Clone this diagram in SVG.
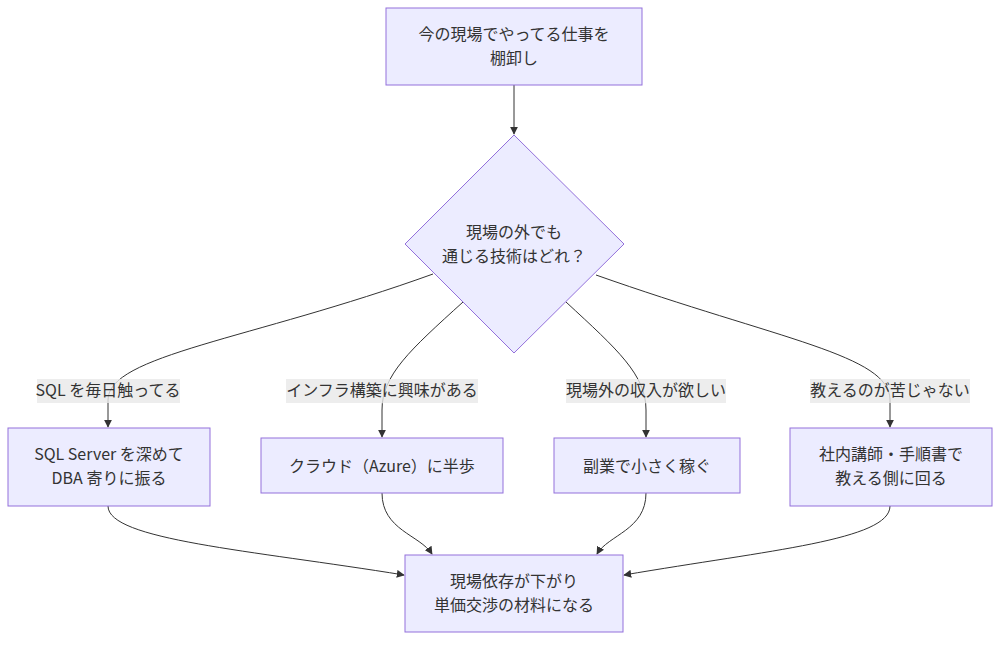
<svg xmlns="http://www.w3.org/2000/svg" width="1008" height="646" viewBox="0 0 1008 646">
<style>
.n{fill:#ECECFF;stroke:#9370DB;stroke-width:1}
.e{fill:none;stroke:#333;stroke-width:1}
text{font-family:"Noto Sans CJK JP","Liberation Sans",sans-serif;font-size:16px;fill:#333;text-anchor:middle}
.lb{fill:#E8E8E8;opacity:0.8}
</style>
<defs><marker id="a" viewBox="0 0 10 10" refX="9" refY="5" markerWidth="8" markerHeight="8" orient="auto"><path d="M0,0L10,5L0,10z" fill="#333"/></marker></defs>
<rect width="1008" height="646" fill="#fff"/>
<g id="edges">
<path class="e" marker-end="url(#a)" d="M514,85L514,134"/>
<path class="e" marker-end="url(#a)" d="M433,274C250,340 108,355 108,400L108,427"/>
<path class="e" marker-end="url(#a)" d="M463,302C410,350 382,375 382,410L382,437"/>
<path class="e" marker-end="url(#a)" d="M566,302C618,350 646,375 646,410L646,437"/>
<path class="e" marker-end="url(#a)" d="M596,275C780,340 890,355 890,400L890,427"/>
<path class="e" marker-end="url(#a)" d="M108,506C108,540 250,550 404,575"/>
<path class="e" marker-end="url(#a)" d="M382,493C382,530 420,535 432,554"/>
<path class="e" marker-end="url(#a)" d="M646,493C646,530 608,535 597,554"/>
<path class="e" marker-end="url(#a)" d="M890,506C890,540 770,550 624,575"/>
</g>
<g id="labels">
<rect class="lb" x="37" y="379" width="143" height="24"/><text x="108" y="396">SQL を毎日触ってる</text>
<rect class="lb" x="286" y="379" width="192" height="24"/><text x="382" y="396">インフラ構築に興味がある</text>
<rect class="lb" x="566" y="379" width="160" height="24"/><text x="646" y="396">現場外の収入が欲しい</text>
<rect class="lb" x="810" y="379" width="160" height="24"/><text x="890" y="396">教えるのが苦じゃない</text>
</g>
<g id="n0"><rect class="n" x="386" y="8" width="256" height="77"/><text x="514" y="40">今の現場でやってる仕事を</text><text x="514" y="64">棚卸し</text></g>
<g id="n1"><polygon class="n" points="514,135 624,244 514,353 405,244"/><text x="514" y="238">現場の外でも</text><text x="514" y="262">通じる技術はどれ？</text></g>
<g id="n2"><rect class="n" x="8" y="428" width="202" height="78"/><text x="109" y="460">SQL Server を深めて</text><text x="109" y="484">DBA 寄りに振る</text></g>
<g id="n3"><rect class="n" x="261" y="438" width="242" height="55"/><text x="382" y="472">クラウド（Azure）に半歩</text></g>
<g id="n4"><rect class="n" x="554" y="438" width="186" height="55"/><text x="647" y="472">副業で小さく稼ぐ</text></g>
<g id="n5"><rect class="n" x="790" y="428" width="202" height="78"/><text x="891" y="460">社内講師・手順書で</text><text x="891" y="484">教える側に回る</text></g>
<g id="n6"><rect class="n" x="405" y="555" width="218" height="77"/><text x="514" y="587">現場依存が下がり</text><text x="514" y="611">単価交渉の材料になる</text></g>
</svg>
